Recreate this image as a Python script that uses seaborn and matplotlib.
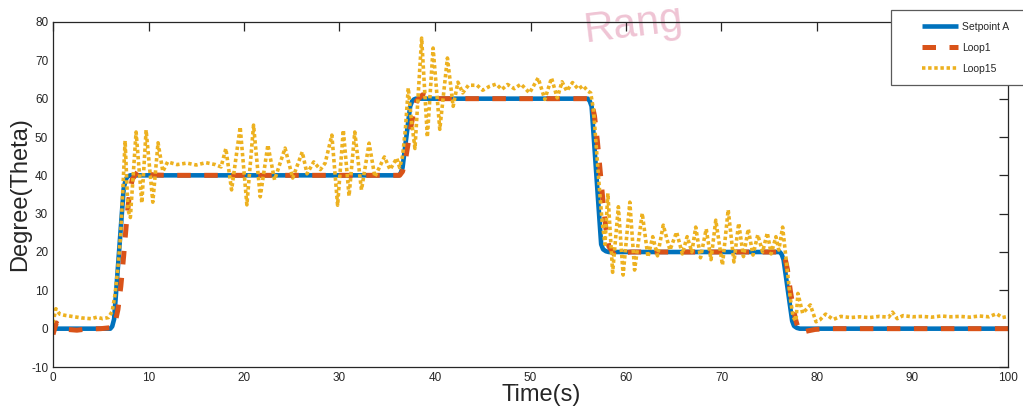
import matplotlib
matplotlib.use("Agg")
import matplotlib.pyplot as plt
from matplotlib.patches import Rectangle
import seaborn as sns
import pandas as pd

# ---- series data -------------------------------------------------------
setpoint_t = [0, 6.0, 6.2, 6.4, 7.4, 7.6, 7.8, 8.1,
              36.2, 36.4, 36.6, 37.4, 37.6, 37.8, 38.0,
              56.0, 56.2, 56.4, 57.4, 57.6, 57.9, 58.2,
              76.1, 76.3, 76.5, 77.4, 77.6, 77.9, 78.2, 100]
setpoint_y = [0, 0, 0.6, 2.5, 36.5, 38.8, 39.7, 40,
              40, 40.5, 42, 58, 59.3, 59.8, 60,
              60, 59.4, 58, 22, 20.7, 20.2, 20,
              20, 19.4, 18, 2, 0.7, 0.2, 0, 0]

loop1_t = [0, 0.35, 0.8, 1.5, 2.5, 3.5, 5.0, 6.2, 6.5, 6.8, 7.1, 7.4, 7.7,
           8.0, 8.3, 8.9, 9.6, 10.5, 12,
           36.3, 36.6, 36.9, 37.2, 37.5, 37.8, 38.1, 38.7, 39.5, 40.5,
           56.1, 56.4, 56.7, 57.0, 57.3, 57.6, 57.9, 58.2, 58.8, 59.5, 60.5,
           76.3, 76.6, 76.9, 77.2, 77.5, 77.8, 78.1, 78.4, 79.0, 79.8, 81, 100]
loop1_y = [-1.5, 1.5, 0.2, -0.2, -0.4, -0.1, 0, 0.3, 1.5, 5, 11, 19, 28,
           35, 39, 41, 40.6, 40.1, 40,
           40, 41, 44, 48.5, 53, 57, 59.5, 61, 60.4, 60,
           60, 59, 55.5, 49, 41, 33, 26, 21.5, 19.2, 19.7, 20,
           20, 19, 15.5, 10, 5.5, 2, -0.5, -1, -0.6, -0.2, 0, 0]

loop15_t = [0, 0.3, 0.7, 1.2, 2.0, 3.0, 4.0, 4.6, 5.2, 5.8, 6.2,
            6.5, 6.8, 7.1, 7.35, 7.55, 7.85, 8.1, 8.7, 9.3, 9.75, 10.45,
            11.0, 11.5, 12.0, 13, 14, 15, 16, 17, 17.6, 18.1, 18.7, 19.6,
            20.3, 21.0, 21.7, 22.5, 23.2, 24.3, 25.1, 26.1, 26.6, 27.3,
            28.0, 28.5, 29.2, 29.8, 30.4, 31.0, 31.6, 32.3, 33.1, 33.7,
            34.7, 35.3, 36.0, 36.3,
            36.6, 36.9, 37.2, 37.5, 37.9, 38.6, 39.2, 39.8, 40.5, 41.3,
            41.9, 42.4, 42.9, 43.5, 44.4, 45.0, 45.7, 46.4, 47.0, 47.6,
            48.3, 49.0, 49.9, 50.8, 51.5, 52.2, 52.8, 53.3, 53.8, 54.4,
            55.0, 55.5, 56.0, 56.3,
            56.6, 56.9, 57.2, 57.5, 57.8, 58.1, 58.6, 59.2, 59.7, 60.4,
            60.9, 61.7, 62.3, 62.8, 63.3, 63.9, 64.6, 65.3, 65.9, 66.4,
            66.9, 67.3, 67.8, 68.4, 68.9, 69.4, 70.1, 70.7, 71.3, 71.8,
            72.3, 72.8, 73.3, 73.8, 74.3, 74.8, 75.2, 75.7, 76.0, 76.4,
            76.6, 76.9, 77.2, 77.5, 77.8, 78.0, 78.5, 79.3, 79.9, 80.3,
            80.9, 81.7, 82.5, 83.5, 84.5, 85.5, 86.5, 87.5, 87.9, 88.4,
            89.0, 90, 91, 92, 93, 94, 95, 96, 97, 98, 98.8, 99.4, 100]
loop15_y = [1.5, 5.2, 3.8, 3.5, 3.2, 2.8, 2.6, 3.0, 2.6, 2.9, 4.5,
            9, 16, 25, 38, 49, 31, 29, 51.3, 32.8, 51.8, 33,
            48.5, 41, 43.5, 42.8, 43.2, 42.7, 43.3, 42.8, 42.2, 47, 36.2, 52.6,
            32.3, 53.1, 34.4, 47.9, 38.8, 47.1, 39.3, 46.1, 40.4, 43.5,
            41.5, 43.2, 50.5, 32.2, 51.8, 34.6, 51.3, 36.2, 48.4, 39.6,
            44.8, 41.5, 44.5, 42,
            45, 52, 62.8, 55, 47, 75.8, 50, 73.2, 52, 70.6,
            58, 64.3, 61.5, 63.5, 63.5, 62.2, 63.2, 63.8, 62.4, 63.7,
            62.6, 63.8, 61.5, 65.4, 59.8, 65.4, 60.2, 64.4, 62, 64.2,
            62.5, 63.4, 62, 61.5,
            57, 47, 37, 28, 22, 35.3, 14.7, 31.8, 14, 33,
            15.3, 30.1, 18.7, 24, 19, 27, 20.5, 25.2, 19.5, 24,
            20, 26.5, 18.5, 26, 18, 28.3, 16.6, 31, 17.4, 27.5,
            18.8, 26, 19.2, 24.5, 20, 25, 19.5, 24, 20.5, 26.5,
            22, 15, 8, 3, 2, 9.2, 4, 6.2, 1.8, 2.3,
            3.8, 2.4, 3.2, 2.9, 3.1, 2.9, 3.2, 3.0, 4.3, 2.6,
            3.4, 3.1, 3.2, 3.0, 3.3, 3.1, 3.2, 3.0, 3.3, 3.1, 3.9, 2.9, 3.2]

series_names = ["Setpoint A", "Loop1", "Loop15"]
x_ticks = list(range(0, 101, 10))
y_ticks = list(range(-10, 81, 10))

# ---- style -------------------------------------------------------------
sns.set_style("white")
plt.rcParams["font.family"] = ["Liberation Sans", "DejaVu Sans"]
plt.rcParams["axes.unicode_minus"] = False
ink = "#262626"
c_blue, c_orange, c_yellow = "#0072BD", "#D95319", "#EDB120"

W, H = 1023, 407
fig = plt.figure(figsize=(W / 100, H / 100), dpi=100)
fig.patch.set_facecolor("white")
ax = fig.add_axes([53 / W, 1 - 367 / H, 955 / W, 345 / H])
ax.patch.set_alpha(0)

# faint seal lettering behind the plot
fig.text(634 / W, 1 - 25 / H, "Rang", rotation=7, color="#efc4d4",
         fontsize=30, zorder=-1, ha="center", va="center")

df_sp = pd.DataFrame({"t": setpoint_t, "v": setpoint_y})
df_l1 = pd.DataFrame({"t": loop1_t, "v": loop1_y})
df_l15 = pd.DataFrame({"t": loop15_t, "v": loop15_y})

sns.lineplot(data=df_sp, x="t", y="v", ax=ax, color=c_blue, lw=3.3,
             label=series_names[0], legend=False)
sns.lineplot(data=df_l1, x="t", y="v", ax=ax, color=c_orange, lw=3.6,
             label=series_names[1], legend=False)
sns.lineplot(data=df_l15, x="t", y="v", ax=ax, color=c_yellow, lw=2.6,
             label=series_names[2], legend=False)

l_sp, l_l1, l_l15 = ax.lines[-3:]
l_sp.set_solid_capstyle("butt")
l_l1.set_linestyle((0, (2.7, 2.7)))
l_l1.set_dash_capstyle("butt")
l_l15.set_linestyle((0, (0.95, 0.75)))
l_l15.set_dash_capstyle("butt")

ax.set_xlim(0, 100)
ax.set_ylim(-10, 80)
ax.set_xticks(x_ticks)
ax.set_yticks(y_ticks)
ax.tick_params(direction="in", length=6.5, width=0.9, top=True, right=True,
               labelsize=8.5, colors=ink, pad=3.5)
for s in ax.spines.values():
    s.set_visible(True)
    s.set_color(ink)
    s.set_linewidth(0.9)

ax.set_xlabel("Time(s)", fontsize=17, color=ink, labelpad=1)
ax.xaxis.set_label_coords((541 - 53) / 955, -0.048)
ax.xaxis.label.set_va("top")
ax.set_ylabel("Degree(Theta)", fontsize=17, color=ink, labelpad=0)

# legend box sits over the top-right corner
fig.add_artist(Rectangle((891 / W, 1 - 85 / H), 0.2, 75 / H,
                         transform=fig.transFigure, facecolor="white",
                         edgecolor="#5a5a5a", lw=0.9, zorder=4))
leg = fig.legend([l_sp, l_l1, l_l15], series_names, loc="upper left",
                 bbox_to_anchor=(922 / W, 1 - 22 / H), frameon=False,
                 fontsize=7.5, handlelength=3.5, handletextpad=0.35,
                 labelspacing=1.05, borderpad=0, borderaxespad=0)
leg.set_zorder(5)

fig.savefig("out.png", dpi=100)
